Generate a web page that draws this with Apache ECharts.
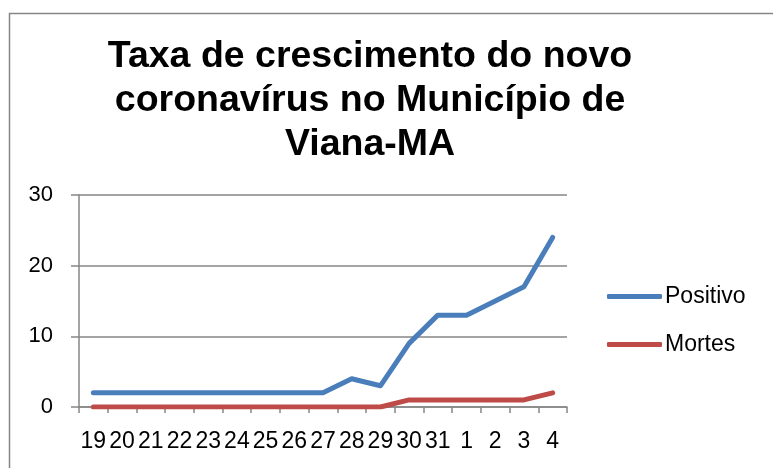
<!DOCTYPE html>
<html>
<head>
<meta charset="utf-8">
<script src="https://cdn.jsdelivr.net/npm/echarts@6.0.0/dist/echarts.min.js"></script>
<style>
  html, body { margin: 0; padding: 0; background: #fff; }
  #chart { width: 773px; height: 468px; }
</style>
</head>
<body>
<div id="chart"></div>
<script>
    const days = ["19", "20", "21", "22", "23", "24", "25", "26", "27", "28", "29", "30", "31", "1", "2", "3", "4"];
    const positivo = [2, 2, 2, 2, 2, 2, 2, 2, 2, 4, 3, 9, 13, 13, 15, 17, 24];
    const mortes = [0, 0, 0, 0, 0, 0, 0, 0, 0, 0, 0, 1, 1, 1, 1, 1, 2];

    const font = "'Liberation Sans', Arial, sans-serif";
    const axisGray = "#868686";
    const blue = "#4a7ebb";
    const red = "#be4b48";

    const chart = echarts.init(document.getElementById("chart"), null, { renderer: "canvas" });

    const lineSeries = (name, data, color) => ({
        name,
        type: "line",
        data,
        symbol: "none",
        showSymbol: false,
        lineStyle: { color, width: 5, cap: "round", join: "round" },
        itemStyle: { color },
        animation: false
    });

    chart.setOption({
        animation: false,
        title: {
            text: "Taxa de crescimento do novo\ncoronavírus no Município de\nViana-MA",
            left: 370,
            top: 35,
            textAlign: "center",
            padding: 0,
            textStyle: {
                fontFamily: font,
                fontSize: 37.5,
                fontWeight: "bold",
                lineHeight: 44,
                color: "#000"
            }
        },
        graphic: [
            {
                type: "rect",
                shape: { x: 9.5, y: 13.5, width: 800, height: 500 },
                style: { fill: "none", stroke: axisGray, lineWidth: 1.5 },
                silent: true
            }
        ],
        legend: {
            orient: "vertical",
            left: 607,
            top: 285,
            itemWidth: 55,
            itemHeight: 5,
            itemGap: 25,
            padding: 0,
            icon: "roundRect",
            textStyle: { fontFamily: font, fontSize: 23, color: "#000", padding: [0, 0, 0, -2] },
            data: [
                { name: "Positivo", itemStyle: { color: blue } },
                { name: "Mortes", itemStyle: { color: red } }
            ]
        },
        grid: {
            left: 79,
            right: 206,
            top: 195,
            bottom: 61,
            containLabel: false
        },
        xAxis: {
            type: "category",
            data: days,
            boundaryGap: true,
            axisLine: { show: true, lineStyle: { color: axisGray, width: 1.5 } },
            axisTick: { show: true, length: 6, inside: false, lineStyle: { color: axisGray, width: 1.5 } },
            axisLabel: {
                interval: 0,
                margin: 23,
                fontFamily: font,
                fontSize: 23,
                color: "#000"
            }
        },
        yAxis: {
            type: "value",
            min: 0,
            max: 30,
            interval: 10,
            axisLine: { show: true, lineStyle: { color: axisGray, width: 1.5 } },
            axisTick: { show: true, length: 8, lineStyle: { color: axisGray, width: 1.5 } },
            splitLine: { show: true, lineStyle: { color: axisGray, width: 1.5 } },
            axisLabel: {
                margin: 26,
                fontFamily: font,
                fontSize: 22,
                color: "#000"
            }
        },
        series: [
            lineSeries("Positivo", positivo, blue),
            lineSeries("Mortes", mortes, red)
        ]
    });
</script>
</body>
</html>
